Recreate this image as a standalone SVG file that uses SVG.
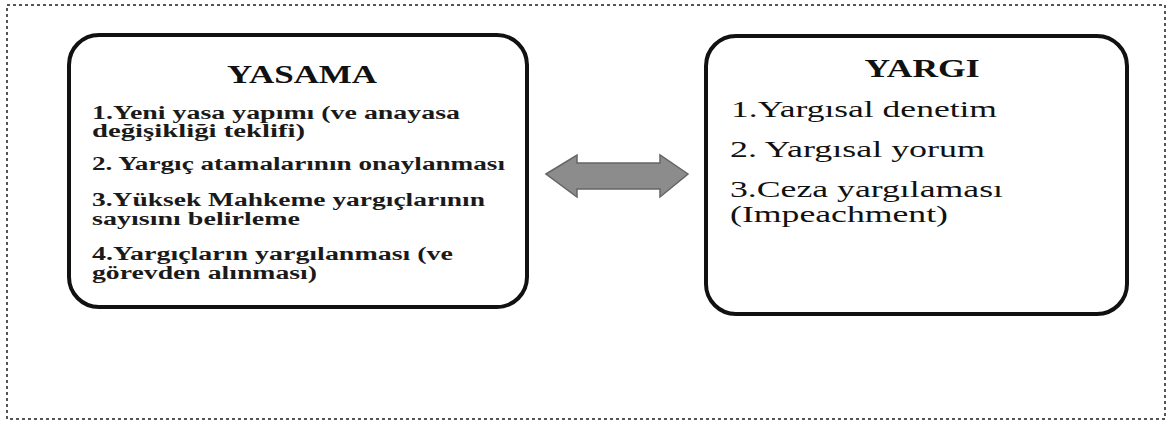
<svg xmlns="http://www.w3.org/2000/svg" width="1168" height="428" viewBox="0 0 1168 428">
<style>
.frame{fill:none;stroke:#555;stroke-width:2;stroke-dasharray:3 3}
.box{fill:#fff;stroke:#111;stroke-width:4}
.title{font-family:'Liberation Serif','Times New Roman',Tinos,serif;font-weight:700;font-size:25px;fill:#111;text-anchor:middle}
.item{font-family:'Liberation Serif','Times New Roman',Tinos,serif;font-weight:700;font-size:18px;fill:#1a1a1a}
.item2{font-family:'Liberation Serif','Times New Roman',Tinos,serif;font-size:24px;fill:#111}
.arrow{fill:#8c8c8c;stroke:#666;stroke-width:1.5}
</style>
<rect x="0" y="0" width="1168" height="428" fill="#fff"/>
<rect class="frame" x="7" y="5" width="1158" height="414"/>
<g id="yasama">
<rect class="box" x="69" y="35" width="458" height="272" rx="30" ry="30"/>
<text class="title" x="302" y="83" textLength="150" lengthAdjust="spacingAndGlyphs">YASAMA</text>
<text class="item" x="92" y="119" textLength="368" lengthAdjust="spacingAndGlyphs">1.Yeni yasa yapımı (ve anayasa</text>
<text class="item" x="92" y="137" textLength="213" lengthAdjust="spacingAndGlyphs">değişikliği teklifi)</text>
<text class="item" x="92" y="170" textLength="413" lengthAdjust="spacingAndGlyphs">2. Yargıç atamalarının onaylanması</text>
<text class="item" x="92" y="206" textLength="393" lengthAdjust="spacingAndGlyphs">3.Yüksek Mahkeme yargıçlarının</text>
<text class="item" x="92" y="225" textLength="208" lengthAdjust="spacingAndGlyphs">sayısını belirleme</text>
<text class="item" x="92" y="260" textLength="361" lengthAdjust="spacingAndGlyphs">4.Yargıçların yargılanması  (ve</text>
<text class="item" x="92" y="279" textLength="225" lengthAdjust="spacingAndGlyphs">görevden alınması)</text>
</g>
<g id="connectors">
<path class="arrow" d="M546,174 L577,155 L577,163 L660,163 L660,155 L688,174 L660,197 L660,189 L577,189 L577,197 Z"/>
</g>
<g id="yargi">
<rect class="box" x="706" y="36" width="421" height="278" rx="30" ry="30"/>
<text class="title" x="922" y="77" textLength="115" lengthAdjust="spacingAndGlyphs">YARGI</text>
<text class="item2" x="731" y="117" textLength="266" lengthAdjust="spacingAndGlyphs">1.Yargısal denetim</text>
<text class="item2" x="730" y="157" textLength="255" lengthAdjust="spacingAndGlyphs">2. Yargısal yorum</text>
<text class="item2" x="730" y="197" textLength="273" lengthAdjust="spacingAndGlyphs">3.Ceza yargılaması</text>
<text class="item2" x="730" y="222" textLength="218" lengthAdjust="spacingAndGlyphs">(Impeachment)</text>
</g>
</svg>
